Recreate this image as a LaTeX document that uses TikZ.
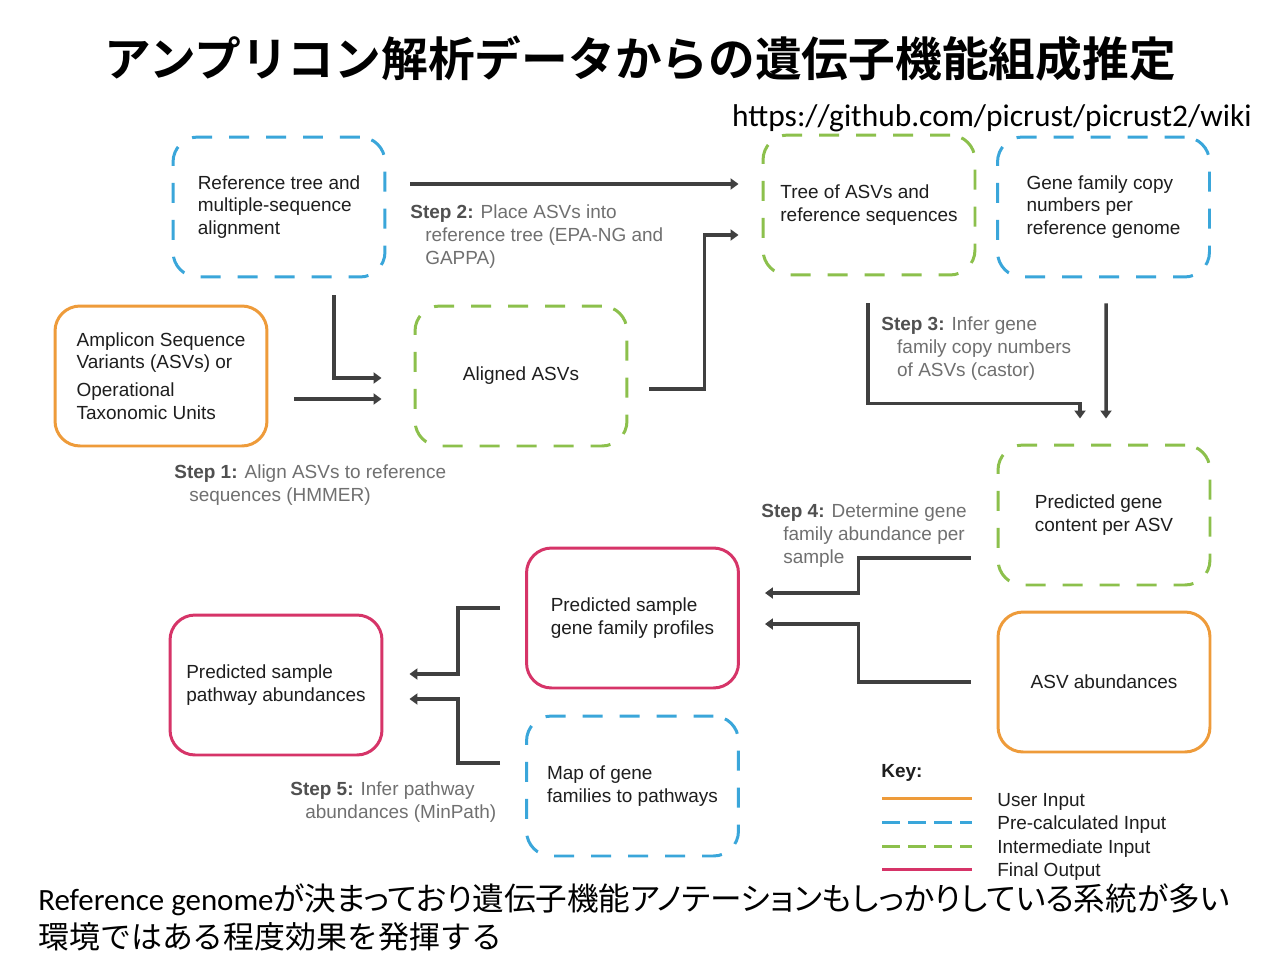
\documentclass[tikz,border=0pt]{standalone}
\usepackage{fontspec}
\setmainfont{Liberation Sans}
\newfontfamily\jpfont{Noto Sans CJK JP}
\newfontfamily\jpprop{Noto Sans CJK JP}[RawFeature=+palt]
\newfontfamily\jpbold{Noto Sans CJK JP Bold}
\newfontfamily\calfont{Carlito}
\usetikzlibrary{arrows.meta,calc}

\definecolor{userin}{RGB}{238,155,58}
\definecolor{precalc}{RGB}{58,166,218}
\definecolor{interm}{RGB}{140,192,76}
\definecolor{finalout}{RGB}{214,52,104}
\definecolor{flow}{RGB}{64,64,64}
\definecolor{steptxt}{RGB}{112,112,112}
\definecolor{stephead}{RGB}{80,80,80}
\definecolor{boxtxt}{RGB}{30,30,30}

\tikzset{
  databox/.style={rectangle, rounded corners=0.5cm, minimum width=4.24cm,
    minimum height=2.8cm, line width=1.7pt, align=left, text=boxtxt,
    font=\fontsize{10.8}{13}\selectfont, inner sep=0pt},
  userbox/.style={databox, draw=userin},
  precalcbox/.style={databox, draw=precalc, dash pattern=on 0.4cm off 0.34cm},
  intermbox/.style={databox, draw=interm, dash pattern=on 0.4cm off 0.34cm},
  finalbox/.style={databox, draw=finalout},
  flowline/.style={draw=flow, line width=2pt,
    -{Triangle[length=0.16cm,width=0.22cm]}},
  steplabel/.style={anchor=north west, inner sep=0pt, align=left,
    text=steptxt, font=\fontsize{10.8}{13.2}\selectfont},
  keyline/.style={line width=1.7pt},
  keydash/.style={keyline, dash pattern=on 0.36cm off 0.16cm},
  keytext/.style={anchor=base west, inner sep=0pt, text=boxtxt,
    font=\fontsize{10.8}{13}\selectfont},
  notetext/.style={anchor=base west, inner sep=0pt, font=\fontsize{17.6}{21}\selectfont},
}
\newcommand{\stephd}[1]{\textcolor{stephead}{\textbf{#1}}}

\begin{document}
\begin{tikzpicture}[x=0.02cm, y=-0.02cm]
\useasboundingbox[fill=white] (0,0) rectangle (1280,960);

% heading and source
\node[font=\jpbold\fontsize{26.6}{30}\selectfont] (title) at (640,59)
  {アンプリコン解析データからの遺伝子機能組成推定};
\node[anchor=base east, inner sep=0pt, font=\calfont\fontsize{17.9}{20}\selectfont] (url)
  at (1252,126) {https://github.com/picrust/picrust2/wiki};

% data boxes
\node[precalcbox] (ref) at (279,207) {Reference tree and\\multiple-sequence\\alignment};
\node[userbox] (amp) at (161,376) {Amplicon Sequence\\Variants (ASVs) or\\[2.8pt]Operational\\Taxonomic Units};
\node[intermbox] (aln) at (521,376) {Aligned ASVs};
\node[intermbox] (tree) at (869,205) {Tree of ASVs and\\reference sequences};
\node[precalcbox] (gfc) at (1103.5,207) {Gene family copy\\numbers per\\reference genome};
\node[intermbox] (pgc) at (1104,515) {Predicted gene\\content per ASV};
\node[userbox] (asvab) at (1104,682) {ASV abundances};
\node[finalbox] (pgf) at (632.5,618) {Predicted sample\\gene family profiles};
\node[finalbox] (pwy) at (276,685) {Predicted sample\\pathway abundances};
\node[precalcbox] (map) at (632.5,786) {Map of gene\\families to pathways};

% step connectors
\draw[flowline] ($(ref.east)+(24,-23)$) -- ($(tree.west)+(-23,-21)$);
\draw[flowline] ($(aln.east)+(21,13)$) -- ++(55,0) |- ($(tree.west)+(-23,30)$);
\draw[flowline] ($(ref.south)+(55,17)$) |- ($(aln.west)+(-32,2)$);
\draw[flowline] ($(amp.east)+(26,23)$) -- ($(aln.west)+(-32,23)$);
\draw[flowline] ($(tree.south)+(-1,27)$) -- ++(0,100) -| ($(pgc.north)+(-24,-25)$);
\draw[flowline] ($(gfc.south)+(2.5,25)$) -- ($(pgc.north)+(2,-25)$);
\draw[flowline] ($(pgc.west)+(-26,43)$) -- ++(-112,0) |- ($(pgf.east)+(25,-25)$);
\draw[flowline] ($(asvab.west)+(-26,0)$) -- ++(-112,0) |- ($(pgf.east)+(25,6)$);
\draw[flowline] ($(pgf.west)+(-25,-10)$) -- ++(-42,0) |- ($(pwy.east)+(26,-11)$);
\draw[flowline] ($(map.west)+(-25,-23)$) -- ++(-42,0) |- ($(pwy.east)+(26,14)$);

% step descriptions
\node[steplabel] (s1) at (174,464) {\stephd{Step 1:} Align ASVs to reference\\\hspace*{8.5pt}sequences (HMMER)};
\node[steplabel] (s2) at (410,204) {\stephd{Step 2:} Place ASVs into\\\hspace*{8.5pt}reference tree (EPA-NG and\\\hspace*{8.5pt}GAPPA)};
\node[steplabel] (s3) at (881,316) {\stephd{Step 3:} Infer gene\\\hspace*{9pt}family copy numbers\\\hspace*{9pt}of ASVs (castor)};
\node[steplabel] (s4) at (761,503) {\stephd{Step 4:} Determine gene\\\hspace*{12.5pt}family abundance per\\\hspace*{12.5pt}sample};
\node[steplabel] (s5) at (290,781) {\stephd{Step 5:} Infer pathway\\\hspace*{8.5pt}abundances (MinPath)};

% key
\node[anchor=base west, inner sep=0pt, text=boxtxt,
  font=\bfseries\fontsize{10.8}{13}\selectfont] (key) at (881,777) {Key:};
\coordinate (k1a) at (882,798); \coordinate (k1b) at (972,798);
\coordinate (k2a) at (882,822); \coordinate (k2b) at (972,822);
\coordinate (k3a) at (882,846); \coordinate (k3b) at (972,846);
\coordinate (k4a) at (882,869); \coordinate (k4b) at (972,869);
\draw[keyline, userin] (k1a) -- (k1b);
\draw[keydash, precalc] (k2a) -- (k2b);
\draw[keydash, interm] (k3a) -- (k3b);
\draw[keyline, finalout] (k4a) -- (k4b);
\node[keytext] (kt1) at (997,806) {User Input};
\node[keytext] (kt2) at (997,829) {Pre-calculated Input};
\node[keytext] (kt3) at (997,853) {Intermediate Input};
\node[keytext] (kt4) at (997,876) {Final Output};

% closing remark
\node[notetext] (note1) at (38,910)
  {{\calfont Reference genome}{\jpprop\fontsize{18}{21}\selectfont が決まっており遺伝子機能アノテーションもしっかりしている系統が多い}};
\node[notetext] (note2) at (38,948) {\jpfont 環境ではある程度効果を発揮する};
\end{tikzpicture}
\end{document}
